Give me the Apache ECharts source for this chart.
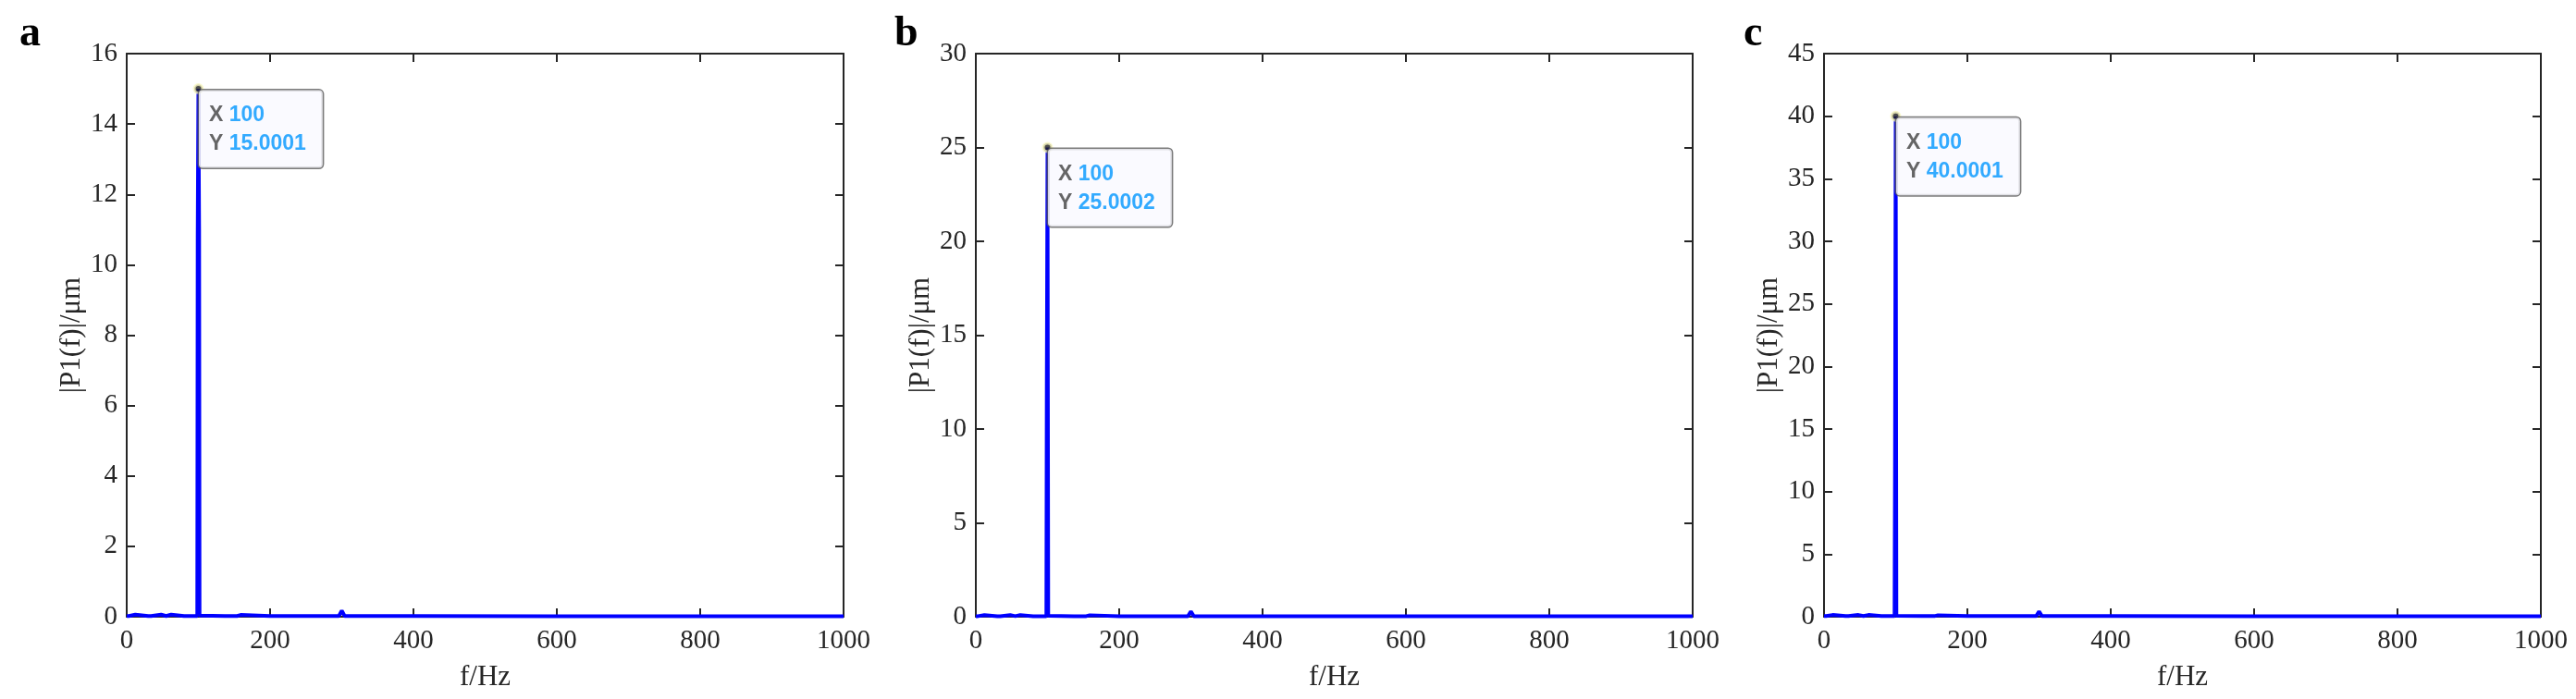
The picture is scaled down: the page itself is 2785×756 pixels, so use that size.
<!DOCTYPE html>
<html><head><meta charset="utf-8">
<script src="https://cdn.jsdelivr.net/npm/echarts@6/dist/echarts.min.js"></script>
<style>html,body{margin:0;padding:0;background:#fff}#c{width:2785px;height:756px}</style>
</head><body><div id="c"></div><script>
// ---- data ----
const panelLetters = ['a', 'b', 'c'];
const freqs = [0, 3, 5, 12, 14, 30, 32, 34, 36, 48, 50, 55, 57, 62, 64, 80, 98.4, 99, 100, 101, 101.6, 137, 138, 139, 154, 156, 159, 161, 200, 296, 300, 304, 400, 600, 800, 1000];
const ampA = [0.02, 0.02, 0.06, 0.06, 0.02, 0.02, 0.05, 0.02, 0.06, 0.06, 0.02, 0.02, 0.06, 0.06, 0.02, 0.02, 0.02, 10.8, 15.0001, 11.0, 0.03, 0.02, 0.04, 0.02, 0.02, 0.05, 0.05, 0.02, 0.02, 0.02, 0.17, 0.02, 0.02, 0.01, 0.01, 0.01];
const ampB = [0.03, 0.03, 0.09, 0.09, 0.03, 0.03, 0.08, 0.03, 0.09, 0.09, 0.03, 0.03, 0.09, 0.09, 0.03, 0.03, 0.03, 12.3, 25.0002, 0.05, 0.03, 0.03, 0.06, 0.03, 0.03, 0.08, 0.08, 0.03, 0.03, 0.03, 0.28, 0.03, 0.03, 0.02, 0.02, 0.02];
const ampC = [0.05, 0.05, 0.14, 0.14, 0.05, 0.05, 0.12, 0.05, 0.14, 0.14, 0.05, 0.05, 0.14, 0.14, 0.05, 0.05, 0.05, 11.6, 40.0001, 0.08, 0.05, 0.05, 0.1, 0.05, 0.05, 0.12, 0.12, 0.05, 0.05, 0.05, 0.42, 0.05, 0.05, 0.03, 0.03, 0.03];
const amps = [ampA, ampB, ampC];
const peakFreq = [100, 100, 100];
const peakAmp = [15.0001, 25.0002, 40.0001];
const yMax = [16, 30, 45];
const yInterval = [2, 5, 5];
const xMax = 1000;
const xInterval = 200;
const xLabel = 'f/Hz';
const yLabel = '|P1(f)|/μm';

// ---- layout ----
const gridLefts = [137, 1055, 1972];
const letterX = [21, 967, 1885];
const gridTop = 58, gridW = 775, gridH = 609;
const ink = '#262626';
const serif = '"Liberation Serif", "Times New Roman", serif';
const sans = '"Liberation Sans", Arial, Helvetica, sans-serif';

const grids = [], xAxes = [], yAxes = [], series = [], graphics = [];
for (let i = 0; i < 3; i++) {
  grids.push({left: gridLefts[i], top: gridTop, width: gridW, height: gridH, containLabel: false});
  const axLine = {show: true, onZero: false, lineStyle: {color: ink, width: 2}};
  const tick = {show: true, inside: true, length: 9, lineStyle: {color: ink, width: 2}};
  xAxes.push({
    type: 'value', gridIndex: i, position: 'bottom', min: 0, max: xMax, interval: xInterval,
    axisLine: axLine, axisTick: tick, splitLine: {show: false},
    axisLabel: {fontSize: 29, fontFamily: serif, color: ink, margin: 12, formatter: v => String(v)},
    name: xLabel, nameLocation: 'middle', nameGap: 50,
    nameTextStyle: {fontSize: 31, fontFamily: serif, color: ink}
  });
  xAxes.push({
    type: 'value', gridIndex: i, position: 'top', min: 0, max: xMax, interval: xInterval,
    axisLine: axLine, axisTick: tick, splitLine: {show: false}, axisLabel: {show: false}
  });
  yAxes.push({
    type: 'value', gridIndex: i, position: 'left', min: 0, max: yMax[i], interval: yInterval[i],
    axisLine: axLine, axisTick: tick, splitLine: {show: false},
    axisLabel: {fontSize: 29, fontFamily: serif, color: ink, margin: 10, formatter: v => String(v)},
    name: yLabel, nameLocation: 'middle', nameGap: 44, nameRotate: 90,
    nameTextStyle: {fontSize: 31, fontFamily: serif, color: ink}
  });
  yAxes.push({
    type: 'value', gridIndex: i, position: 'right', min: 0, max: yMax[i], interval: yInterval[i],
    axisLine: axLine, axisTick: tick, splitLine: {show: false}, axisLabel: {show: false}
  });
  series.push({
    type: 'line', xAxisIndex: 2 * i, yAxisIndex: 2 * i,
    data: freqs.map((f, k) => [f, amps[i][k]]),
    showSymbol: false, symbol: 'none',
    lineStyle: {color: '#0000ff', width: 4, join: 'bevel'},
    z: 3, animation: false
  });
  const pf = peakFreq[i], pa = peakAmp[i];
  series.push({
    type: 'scatter', xAxisIndex: 2 * i, yAxisIndex: 2 * i,
    data: [[pf, pa]], symbol: 'circle', symbolSize: 9,
    itemStyle: {color: '#1e1e1e', borderColor: 'rgba(246,244,190,0.95)', borderWidth: 3},
    z: 5, animation: false, silent: true,
    label: {
      show: true, position: [6.5, 7.5], align: 'left', verticalAlign: 'top',
      formatter: () => '{k|X }{v|' + pf + '}\n{k|Y }{v|' + pa.toFixed(4) + '}',
      backgroundColor: '#f9f9ff', borderColor: '#5a5a5a', borderWidth: 1.5, borderRadius: 4,
      padding: [12, 18, 10, 11], lineHeight: 31,
      rich: {
        k: {color: '#404040', fontFamily: sans, fontWeight: 'bold', fontSize: 23, lineHeight: 31},
        v: {color: '#0096ff', fontFamily: sans, fontWeight: 'bold', fontSize: 23, lineHeight: 31}
      }
    }
  });
  graphics.push({
    type: 'text', left: letterX[i], top: 14,
    style: {text: panelLetters[i], fontSize: 46, fontWeight: 'bold', fontFamily: serif, fill: '#000'}
  });
}

const chart = echarts.init(document.getElementById('c'), null, {renderer: 'canvas'});
chart.setOption({
  backgroundColor: '#ffffff',
  animation: false,
  grid: grids, xAxis: xAxes, yAxis: yAxes, series: series, graphic: graphics
});
</script></body></html>
